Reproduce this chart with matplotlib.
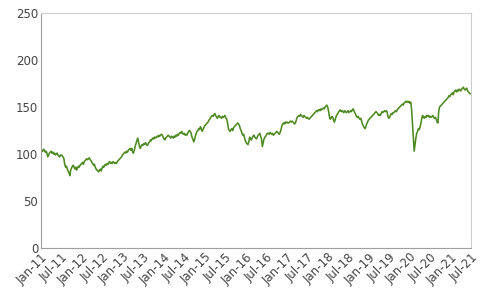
import numpy as np
import pandas as pd
import matplotlib
matplotlib.use('Agg')
import matplotlib.pyplot as plt

# ---- data: roughly weekly index level (4 readings per month), Jan-2011 .. Jul-2021 ----
START, END = '2011-01-01', '2021-07-01'
vals = [
    101, 104, 103, 105,  104, 102, 103, 101,  97, 99, 101, 102,      # 2011 Q1
    103, 101, 102, 100,  101, 99, 100, 101,  99, 98, 97, 99,         # Q2
    99, 98, 97, 95,  89, 86, 87, 84,  82, 80, 77, 83,                # Q3
    85, 87, 88, 86,  84, 86, 83, 85,  87, 86, 88, 89,                # Q4
    90, 91, 89, 92,  93, 94, 95, 94,  95, 96, 94, 93,                # 2012
    91, 90, 88, 89,  86, 84, 83, 82,  81, 83, 84, 82,
    85, 87, 86, 88,  89, 88, 90, 89,  91, 92, 90, 91,
    90, 92, 91, 90,  91, 90, 92, 93,  94, 95, 96, 97,
    99, 100, 101, 102,  101, 103, 102, 104,  105, 106, 104, 106,     # 2013
    102, 101, 104, 108,  111, 114, 117, 113,  108, 106, 108, 110,
    109, 111, 110, 112,  111, 109, 110, 112,  113, 115, 114, 116,
    117, 116, 118, 117,  118, 119, 118, 120,  119, 120, 121, 120,
    118, 116, 115, 117,  118, 119, 120, 119,  118, 117, 119, 118,    # 2014
    117, 119, 118, 120,  119, 121, 120, 122,  123, 122, 124, 122,
    121, 122, 120, 121,  120, 122, 124, 125,  124, 122, 118, 116,
    113, 115, 119, 122,  124, 125, 127, 126,  129, 127, 124, 126,
    128, 130, 131, 132,  133, 134, 136, 137,  139, 140, 141, 140,    # 2015
    142, 143, 141, 139,  138, 140, 141, 139,  139, 138, 140, 139,
    140, 141, 138, 137,  133, 127, 125, 124,  126, 127, 125, 128,
    129, 130, 131, 132,  133, 132, 130, 127,  125, 122, 120, 121,
    117, 114, 112, 111,  110, 113, 118, 116,  115, 117, 119, 120,    # 2016
    118, 117, 116, 118,  120, 121, 122, 119,  116, 108, 112, 116,
    118, 119, 121, 122,  122, 121, 123, 122,  121, 122, 120, 121,
    122, 123, 124, 123,  122, 121, 123, 126,  130, 132, 133, 132,
    134, 133, 134, 133,  133, 134, 135, 134,  135, 134, 133, 132,    # 2017
    133, 136, 139, 140,  141, 140, 142, 141,  140, 139, 141, 140,
    139, 138, 139, 138,  137, 138, 139, 140,  141, 142, 143, 144,
    145, 146, 145, 147,  147, 146, 148, 147,  148, 149, 148, 150,
    151, 152, 150, 146,  140, 137, 138, 140,  139, 136, 134, 137,    # 2018
    140, 142, 143, 145,  146, 147, 145, 146,  145, 144, 146, 145,
    144, 145, 146, 144,  145, 146, 145, 147,  148, 146, 144, 142,
    140, 139, 140, 138,  137, 138, 135, 132,  130, 128, 127, 129,
    132, 134, 136, 137,  138, 139, 140, 141,  142, 143, 144, 145,    # 2019
    144, 143, 141, 142,  141, 143, 145, 144,  145, 146, 145, 146,
    145, 140, 138, 139,  141, 143, 142, 144,  144, 145, 146, 145,
    147, 148, 149, 150,  151, 152, 153, 152,  154, 155, 156, 155,
    156, 155, 156, 154,  155, 147, 132, 118,  103, 110, 117, 122,    # 2020
    124, 127, 126, 129,  133, 138, 141, 139,  138, 140, 139, 141,
    140, 141, 139, 140,  139, 140, 141, 139,  138, 139, 137, 134,
    133, 146, 150, 151,  152, 153, 154, 155,  156, 157, 158, 159,
    160, 162, 161, 163,  164, 165, 163, 166,  167, 168, 166, 168,    # 2021
    167, 169, 168, 167,  169, 170, 171, 169,  168, 169, 170, 167,
    166, 165, 164, 164,
]
y_ticks = [0, 50, 100, 150, 200, 250]
x_tick_labels = ['Jan-11', 'Jul-11', 'Jan-12', 'Jul-12', 'Jan-13', 'Jul-13', 'Jan-14',
                 'Jul-14', 'Jan-15', 'Jul-15', 'Jan-16', 'Jul-16', 'Jan-17', 'Jul-17',
                 'Jan-18', 'Jul-18', 'Jan-19', 'Jul-19', 'Jan-20', 'Jul-20', 'Jan-21', 'Jul-21']

dates = pd.date_range(START, END, periods=len(vals))
tick_dates = pd.date_range(START, END, freq='6MS')

fig = plt.figure(figsize=(5, 3), dpi=100)
ax = fig.add_axes([0.082, 0.173, 0.86, 0.784])
ax.plot(dates, vals, color='#4e8a22', lw=1.15)

ax.set_xlim(pd.Timestamp(START), pd.Timestamp(END))
ax.set_ylim(0, 250)
ax.set_yticks(y_ticks)
ax.set_xticks(tick_dates)
ax.set_xticklabels(x_tick_labels, rotation=45, ha='right', rotation_mode='anchor')
ax.tick_params(length=0, labelsize=8.5, colors='#444444', pad=2)
for s in ('left', 'bottom'):
    ax.spines[s].set_color('#a0a0a0')
for s in ('top', 'right'):
    ax.spines[s].set_color('#cccccc')

plt.savefig('out.png', dpi=100)
